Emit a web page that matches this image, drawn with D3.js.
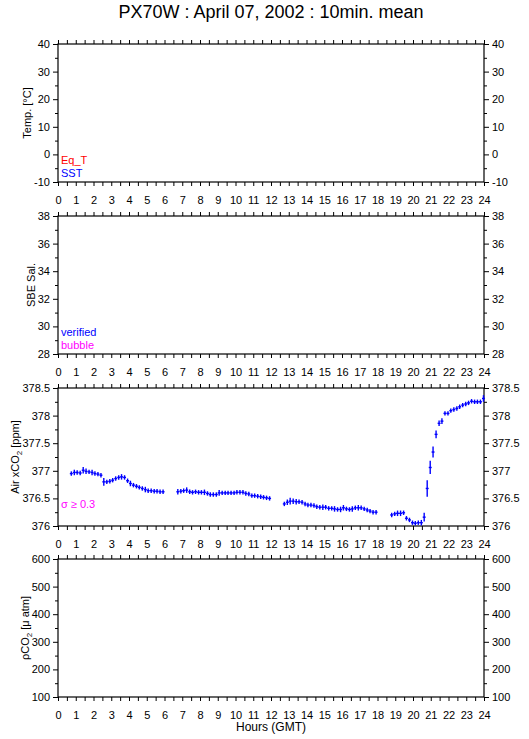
<!DOCTYPE html>
<html>
<head>
<meta charset="utf-8">
<script src="https://cdn.jsdelivr.net/npm/d3@7"></script>
<style>
  body { margin: 0; background: #fff; }
  svg { display: block; font-family: "Liberation Sans", Arial, sans-serif; }
</style>
</head>
<body>
<div id="chart"></div>
<script>
// PX70W daily plot — 4 stacked panels, only Air xCO2 has data for this day.

const hourTicks = d3.range(0, 25);
const halfHourTicks = d3.range(0, 24.01, 0.5);

const tempTicks = [-10, 0, 10, 20, 30, 40];
const tempMinor = [-5, 5, 15, 25, 35];
const salTicks = [28, 30, 32, 34, 36, 38];
const salMinor = [29, 31, 33, 35, 37];
const airTicks = [376, 376.5, 377, 377.5, 378, 378.5];
const airMinor = [376.25, 376.75, 377.25, 377.75, 378.25];
const pco2Ticks = [100, 200, 300, 400, 500, 600];
const pco2Minor = [150, 250, 350, 450, 550];

// Air xCO2 10-min means (hours GMT, ppm, std dev)
const airHour = [
  0.75, 0.92, 1.08, 1.25, 1.42, 1.58, 1.75, 1.92, 2.08, 2.25, 2.42, 2.58, 2.75, 2.92, 3.08, 3.25,
  3.42, 3.58, 3.75, 3.92, 4.08, 4.25, 4.42, 4.58, 4.75, 4.92, 5.08, 5.25, 5.42, 5.58, 5.75, 5.92,
  6.75, 6.92, 7.08, 7.25, 7.42, 7.58, 7.75, 7.92, 8.08, 8.25, 8.42, 8.58, 8.75, 8.92, 9.08, 9.25,
  9.42, 9.58, 9.75, 9.92, 10.08, 10.25, 10.42, 10.58, 10.75, 10.92, 11.08, 11.25, 11.42, 11.58, 11.75, 11.92,
  12.75, 12.92, 13.08, 13.25, 13.42, 13.58, 13.75, 13.92, 14.08, 14.25, 14.42, 14.58, 14.75, 14.92, 15.08, 15.25,
  15.42, 15.58, 15.75, 15.92, 16.08, 16.25, 16.42, 16.58, 16.75, 16.92, 17.08, 17.25, 17.42, 17.58, 17.75, 17.92,
  18.80, 18.97, 19.13, 19.30, 19.47, 19.63, 19.80, 19.97, 20.13, 20.30, 20.47, 20.63, 20.80, 20.97, 21.13, 21.30,
  21.47, 21.63, 21.80, 21.97, 22.13, 22.30, 22.47, 22.63, 22.80, 22.97, 23.13, 23.30, 23.47, 23.63, 23.80, 23.97
];
const airXco2 = [
  376.95, 376.97, 376.97, 376.96, 377.01, 376.99, 376.98, 376.97, 376.95, 376.94, 376.92, 376.80, 376.80, 376.81, 376.83, 376.86,
  376.88, 376.89, 376.88, 376.82, 376.77, 376.74, 376.72, 376.70, 376.68, 376.66, 376.64, 376.64, 376.63, 376.63, 376.62, 376.62,
  376.62, 376.63, 376.64, 376.65, 376.62, 376.61, 376.62, 376.61, 376.61, 376.61, 376.59, 376.57, 376.57, 376.57, 376.60, 376.60,
  376.60, 376.60, 376.60, 376.60, 376.61, 376.61, 376.61, 376.59, 376.58, 376.55, 376.55, 376.54, 376.53, 376.52, 376.51, 376.50,
  376.40, 376.43, 376.45, 376.45, 376.44, 376.44, 376.43, 376.40, 376.38, 376.38, 376.37, 376.35, 376.34, 376.34, 376.34, 376.32,
  376.32, 376.31, 376.30, 376.30, 376.33, 376.31, 376.30, 376.31, 376.33, 376.33, 376.33, 376.31, 376.29, 376.27, 376.25, 376.25,
  376.20, 376.22, 376.23, 376.23, 376.24, 376.14, 376.11, 376.06, 376.05, 376.06, 376.06, 376.16, 376.68, 377.06, 377.34, 377.66,
  377.86, 377.90, 378.04, 378.04, 378.09, 378.11, 378.13, 378.16, 378.19, 378.21, 378.23, 378.26, 378.25, 378.25, 378.25, 378.31
];
const airSigma = [
  0.04, 0.05, 0.04, 0.04, 0.06, 0.05, 0.04, 0.05, 0.04, 0.04, 0.04, 0.07, 0.04, 0.04, 0.04, 0.04,
  0.04, 0.05, 0.04, 0.04, 0.05, 0.04, 0.04, 0.04, 0.04, 0.05, 0.04, 0.04, 0.04, 0.04, 0.04, 0.04,
  0.05, 0.04, 0.04, 0.05, 0.04, 0.04, 0.04, 0.04, 0.04, 0.05, 0.04, 0.04, 0.04, 0.04, 0.05, 0.04,
  0.04, 0.04, 0.04, 0.04, 0.04, 0.04, 0.04, 0.04, 0.04, 0.04, 0.04, 0.04, 0.04, 0.04, 0.04, 0.04,
  0.04, 0.05, 0.06, 0.05, 0.05, 0.04, 0.04, 0.04, 0.04, 0.04, 0.04, 0.04, 0.04, 0.05, 0.04, 0.04,
  0.04, 0.05, 0.04, 0.05, 0.05, 0.04, 0.04, 0.05, 0.04, 0.05, 0.04, 0.04, 0.04, 0.04, 0.04, 0.04,
  0.04, 0.04, 0.05, 0.05, 0.04, 0.04, 0.04, 0.04, 0.04, 0.04, 0.05, 0.08, 0.15, 0.12, 0.10, 0.07,
  0.05, 0.05, 0.04, 0.04, 0.04, 0.04, 0.04, 0.04, 0.04, 0.04, 0.04, 0.04, 0.04, 0.04, 0.04, 0.06
];

const W = 529, H = 739;
const left = 58, right = 484, panelH = 138;

const svg = d3.select("#chart").append("svg").attr("width", W).attr("height", H);
const x = d3.scaleLinear().domain([0, 24]).range([left, right]);

svg.append("text").attr("x", (left + right) / 2).attr("y", 18)
  .attr("text-anchor", "middle").attr("font-size", 18)
  .text("PX70W : April 07, 2002 : 10min. mean");

function panel(top, domain, major, minor, fmt) {
  const bottom = top + panelH;
  const y = d3.scaleLinear().domain(domain).range([bottom, top]);
  const g = svg.append("g");

  // x axes: bottom (labelled), top (ticks only)
  g.append("g").attr("transform", `translate(0,${bottom})`)
    .call(d3.axisBottom(x).tickValues(halfHourTicks).tickSize(4).tickSizeOuter(0).tickFormat(""));
  const xb = g.append("g").attr("transform", `translate(0,${bottom})`)
    .call(d3.axisBottom(x).tickValues(hourTicks).tickSize(0).tickPadding(14).tickSizeOuter(0).tickFormat(d3.format("d")));
  xb.selectAll("text").attr("font-size", 11).attr("fill", "#000");
  g.append("g").attr("transform", `translate(0,${top})`)
    .call(d3.axisTop(x).tickValues(halfHourTicks).tickSize(4).tickSizeOuter(0).tickFormat(""));

  // y axes: left and right
  const yl = g.append("g").attr("transform", `translate(${left},0)`)
    .call(d3.axisLeft(y).tickValues(major).tickSize(5).tickPadding(3).tickSizeOuter(0).tickFormat(fmt));
  g.append("g").attr("transform", `translate(${left},0)`)
    .call(d3.axisLeft(y).tickValues(minor).tickSize(3).tickSizeOuter(0).tickFormat(""));
  const yr = g.append("g").attr("transform", `translate(${right},0)`)
    .call(d3.axisRight(y).tickValues(major).tickSize(5).tickPadding(3).tickSizeOuter(0).tickFormat(fmt));
  g.append("g").attr("transform", `translate(${right},0)`)
    .call(d3.axisRight(y).tickValues(minor).tickSize(3).tickSizeOuter(0).tickFormat(""));
  yl.selectAll("text").attr("font-size", 11).attr("fill", "#000");
  yr.selectAll("text").attr("font-size", 11).attr("fill", "#000");

  g.selectAll(".domain").remove();
  g.selectAll(".tick line").attr("stroke", "#000");

  g.append("rect").attr("x", left).attr("y", top)
    .attr("width", right - left).attr("height", panelH)
    .attr("fill", "none").attr("stroke", "#000").attr("stroke-width", 1.2);

  // widest left label, so the axis title sits just outside it
  let labelW = 0;
  yl.selectAll("text").each(function() { labelW = Math.max(labelW, this.getComputedTextLength()); });

  return { g, y, top, bottom, labelW };
}

function yTitle(p, build) {
  const bx = left - 8 - p.labelW - 3;
  const t = svg.append("text")
    .attr("transform", `translate(${bx},${(p.top + p.bottom) / 2}) rotate(-90)`)
    .attr("text-anchor", "middle").attr("font-size", 11);
  build(t);
}

function legend(p, lines) {
  lines.forEach(([txt, col], i) => {
    svg.append("text").attr("x", left + 3).attr("y", p.bottom - 5 - (lines.length - 1 - i) * 13)
      .attr("font-size", 11).attr("fill", col).text(txt);
  });
}

const fmtPlain = d => String(d);

// Panel 1 — temperature
const p1 = panel(44, [-10, 40], tempTicks, tempMinor, fmtPlain);
yTitle(p1, t => t.text("Temp. [°C]"));
legend(p1, [["Eq_T", "#ff0000"], ["SST", "#0000ff"]]);

// Panel 2 — salinity
const p2 = panel(216, [28, 38], salTicks, salMinor, fmtPlain);
yTitle(p2, t => t.text("SBE Sal."));
legend(p2, [["verified", "#0000ff"], ["bubble", "#ff00ff"]]);

// Panel 3 — air xCO2
const p3 = panel(388, [376, 378.5], airTicks, airMinor, fmtPlain);
yTitle(p3, t => {
  t.append("tspan").text("Air xCO");
  t.append("tspan").attr("font-size", 8).attr("dy", 3).text("2");
  t.append("tspan").attr("dy", -3).text(" [ppm]");
});
legend(p3, [["σ ≥ 0.3", "#ff00ff"], ["", "#ff00ff"]]);

// Panel 4 — pCO2
const p4 = panel(559, [100, 600], pco2Ticks, pco2Minor, fmtPlain);
yTitle(p4, t => {
  t.append("tspan").text("ρCO");
  t.append("tspan").attr("font-size", 8).attr("dy", 3).text("2");
  t.append("tspan").attr("dy", -3).text(" [μ atm]");
});

// Air xCO2 marks: horizontal bar spans the 10-min window, vertical bar ±σ
const air = airHour.map((h, i) => ({ h, v: airXco2[i], s: airSigma[i] }));
const marks = p3.g.append("g").attr("stroke", "#0000ff").attr("stroke-width", 1.4);
marks.selectAll("line.h").data(air).join("line").attr("class", "h")
  .attr("x1", d => x(d.h - 5 / 60)).attr("x2", d => x(d.h + 5 / 60))
  .attr("y1", d => p3.y(d.v)).attr("y2", d => p3.y(d.v));
marks.selectAll("line.v").data(air).join("line").attr("class", "v")
  .attr("x1", d => x(d.h)).attr("x2", d => x(d.h))
  .attr("y1", d => p3.y(d.v - d.s)).attr("y2", d => p3.y(d.v + d.s));

svg.append("text").attr("x", (left + right) / 2).attr("y", 731)
  .attr("text-anchor", "middle").attr("font-size", 12).text("Hours (GMT)");
</script>
</body>
</html>
